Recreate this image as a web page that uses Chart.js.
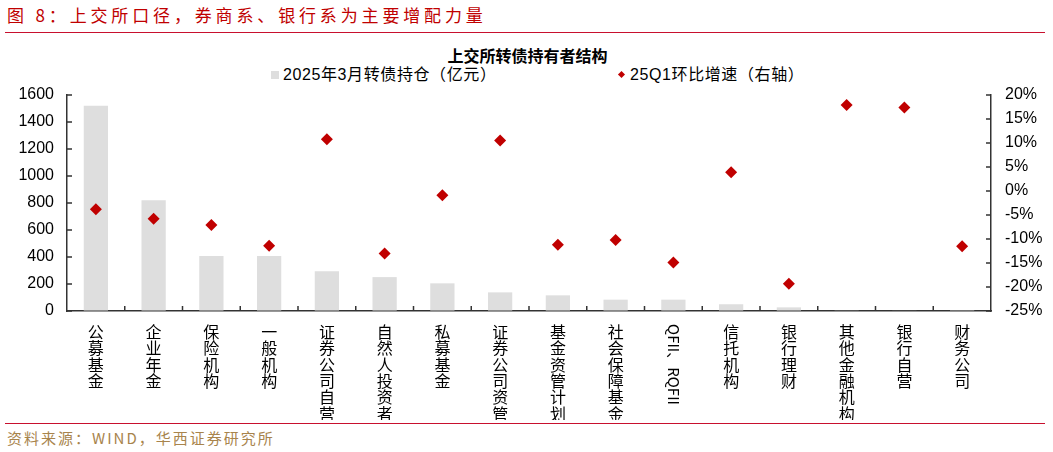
<!DOCTYPE html>
<html><head><meta charset="utf-8">
<script src="https://cdn.jsdelivr.net/npm/chart.js@4"></script>
<style>
html,body{margin:0;padding:0;background:#fff;width:1053px;height:452px;overflow:hidden;position:relative;font-family:"Liberation Sans","Noto Sans CJK SC",sans-serif;}
#ftitle{position:absolute;left:7px;top:2px;color:#c00000;font:17px "Noto Sans CJK SC";letter-spacing:3.85px;white-space:nowrap;}
#line1{position:absolute;left:5px;width:1040px;top:32px;height:0;border-top:1.5px solid #c8102e;}
#line2{position:absolute;left:5px;width:1040px;top:423px;height:0;border-top:1.5px solid #c8102e;}
#source{position:absolute;left:7px;top:427px;color:#a8844c;font:15px "Noto Sans CJK SC";letter-spacing:2px;white-space:nowrap;}
#ctitle{position:absolute;left:0;width:1053px;text-align:center;top:43px;font:bold 16px "Noto Sans CJK SC";color:#000;padding-left:2px;box-sizing:border-box;}
.leg{position:absolute;top:65px;font:16px "Liberation Sans","Noto Sans CJK SC";color:#000;white-space:nowrap;line-height:20px;letter-spacing:0.6px;}
#box1{position:absolute;left:271px;top:71px;width:8px;height:8px;background:#dedede;}
#dia{position:absolute;left:619px;top:72px;width:5px;height:5px;background:#c00000;transform:rotate(45deg);}
#wrap{position:absolute;left:0;top:36px;width:1053px;height:384px;}
</style></head>
<body>
<div id="ftitle">图 8：上交所口径，券商系、银行系为主要增配力量</div>
<div id="line1"></div>
<div id="ctitle">上交所转债持有者结构</div>
<div id="box1"></div><div class="leg" style="left:283px" id="leg1"></div>
<div id="dia"></div><div class="leg" style="left:630px" id="leg2"></div>
<div id="wrap"><canvas id="c"></canvas></div>
<div id="line2"></div>
<div id="source">资料来源：WIND，华西证券研究所</div>
<script>
const categories = ["公募基金","企业年金","保险机构","一般机构","证券公司自营","自然人投资者","私募基金","证券公司资管","基金资管计划","社会保障基金","QFII、RQFII","信托机构","银行理财","其他金融机构","银行自营","财务公司"];
const holdings = [1520, 821, 408, 408, 294, 251, 205, 138, 116, 84, 84, 50, 27, 5, 3, 1];
const growth = [-3.8, -5.8, -7.1, -11.4, 10.8, -13.0, -0.9, 10.5, -11.2, -10.2, -14.9, 3.9, -19.3, 17.9, 17.4, -11.5];
const seriesNames = ["2025年3月转债持仓（亿元）","25Q1环比增速（右轴）"];
const leftTicks = [0,200,400,600,800,1000,1200,1400,1600];
const rightTicks = [-25,-20,-15,-10,-5,0,5,10,15,20];

document.getElementById('leg1').textContent = seriesNames[0];
document.getElementById('leg2').textContent = seriesNames[1];

const AX = '#333333';
const FONT = '"Liberation Sans","Noto Sans CJK SC",sans-serif';

const customAxes = {
  id:'customAxes',
  afterDraw(chart){
    const ctx = chart.ctx, a = chart.chartArea;
    const x = chart.scales.x, y = chart.scales.y, y1 = chart.scales.y1;
    ctx.save();
    ctx.strokeStyle = AX; ctx.lineWidth = 1.5;
    ctx.beginPath();
    leftTicks.forEach(v=>{const py=y.getPixelForValue(v); ctx.moveTo(a.left, py); ctx.lineTo(a.left+5, py);});
    rightTicks.forEach(v=>{const py=y1.getPixelForValue(v); ctx.moveTo(a.right, py); ctx.lineTo(a.right-5, py);});
    for(let i=1;i<categories.length;i++){const px=x.getPixelForValue(i-0.5); ctx.moveTo(px,a.bottom); ctx.lineTo(px,a.bottom-5);}
    ctx.stroke();
    ctx.fillStyle = '#000';
    categories.forEach((lab,i)=>{
      const px = x.getPixelForValue(i);
      const top = a.bottom + 13;
      if(/^[A-Za-z]/.test(lab)){
        ctx.save();
        ctx.translate(px, top);
        ctx.rotate(Math.PI/2);
        ctx.font = '15px "Noto Sans CJK SC"';
        ctx.textAlign='left'; ctx.textBaseline='middle';
        ctx.fillText(lab, 0, 0);
        ctx.restore();
      } else {
        ctx.font = '16px "Noto Sans CJK SC"';
        ctx.textAlign='center'; ctx.textBaseline='middle';
        [...lab].forEach((ch,k)=>ctx.fillText(ch, px, top + 8 + k*16.3));
      }
    });
    ctx.restore();
  }
};

new Chart(document.getElementById('c'), {
  data:{
    labels: categories,
    datasets:[
      {type:'line', label:seriesNames[1], data:growth, yAxisID:'y1', showLine:false,
       pointStyle:'rectRot', pointRadius:6, pointHoverRadius:6, backgroundColor:'#c00000', borderColor:'#c00000', borderWidth:0, order:0},
      {type:'bar', label:seriesNames[0], data:holdings, yAxisID:'y', backgroundColor:'#dedede',
       barPercentage:0.42, categoryPercentage:1, order:1}
    ]
  },
  options:{
    responsive:true, maintainAspectRatio:false, animation:false,
    layout:{padding:{left:19, right:11, top:59, bottom:109}},
    plugins:{legend:{display:false}, title:{display:false}, tooltip:{enabled:false}},
    scales:{
      x:{type:'category', offset:true, grid:{display:false, drawTicks:false},
         border:{display:true, color:AX, width:1.5},
         ticks:{display:false}, afterFit(s){s.height=0;}},
      y:{position:'left', min:0, max:1600, grid:{drawOnChartArea:false, drawTicks:false},
         border:{display:true, color:AX, width:1.5},
         ticks:{stepSize:200, padding:13, color:'#000', font:{family:FONT, size:16}, callback:v=>String(v)},
         afterFit(s){s.width=48;}},
      y1:{position:'right', min:-25, max:20, grid:{drawOnChartArea:false, drawTicks:false},
         border:{display:true, color:AX, width:1.5},
         ticks:{stepSize:5, padding:14, color:'#000', font:{family:FONT, size:16}, callback:v=>v+'%'},
         afterFit(s){s.width=51;}}
    }
  },
  plugins:[customAxes]
});
</script>
</body></html>
